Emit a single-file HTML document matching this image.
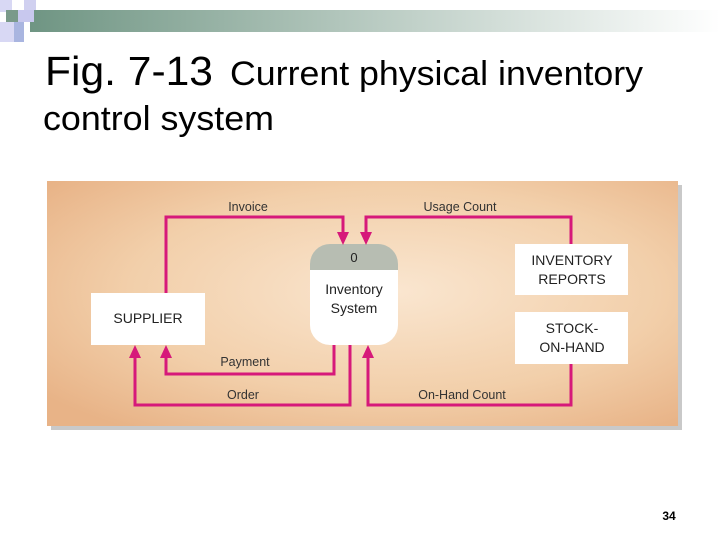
<!DOCTYPE html>
<html><head><meta charset="utf-8"><style>html,body{margin:0;padding:0;background:#fff}</style></head>
<body>
<svg width="720" height="540" viewBox="0 0 720 540" xmlns="http://www.w3.org/2000/svg" font-family="Liberation Sans, Arial, sans-serif">
<defs>
<linearGradient id="bar" x1="0" x2="1" y1="0" y2="0">
<stop offset="0" stop-color="#6f9583"/><stop offset="0.5" stop-color="#b9cbc2"/><stop offset="1" stop-color="#ffffff"/>
</linearGradient>
<radialGradient id="pan" cx="0.55" cy="0.45" r="0.7">
<stop offset="0" stop-color="#fae6d0"/><stop offset="0.6" stop-color="#f2cfaa"/><stop offset="1" stop-color="#e8b387"/>
</radialGradient>
</defs>
<rect x="30" y="10" width="690" height="22" fill="url(#bar)"/>
<rect x="0" y="0" width="12" height="12" fill="#d8d8f4"/>
<rect x="24" y="0" width="12" height="10" fill="#d0d0f0"/>
<rect x="6" y="10" width="12" height="12" fill="#7a9a8a"/>
<rect x="18" y="10" width="16" height="12" fill="#c8c8ee"/>
<rect x="0" y="22" width="14" height="20" fill="#d8d8f4"/>
<rect x="14" y="22" width="10" height="20" fill="#a9b5e0"/>
<text x="45" y="85" font-size="41" textLength="168" lengthAdjust="spacingAndGlyphs">Fig. 7-13</text>
<text x="230" y="85" font-size="34" textLength="413" lengthAdjust="spacingAndGlyphs">Current physical inventory</text>
<text x="43" y="130" font-size="34" textLength="231" lengthAdjust="spacingAndGlyphs">control system</text>
<rect x="51" y="185" width="631" height="245" fill="#c9c9c9"/>
<rect x="47" y="181" width="631" height="245" fill="url(#pan)"/>
<g fill="#fff">
<rect x="91" y="293" width="114" height="52"/>
<rect x="515" y="244" width="113" height="51"/>
<rect x="515" y="312" width="113" height="52"/>
</g>
<path d="M310,270 V264 A20,20 0 0 1 330,244 H378 A20,20 0 0 1 398,264 V270 Z" fill="#b7bdb2"/>
<path d="M310,270 H398 V325 A20,20 0 0 1 378,345 H330 A20,20 0 0 1 310,325 Z" fill="#fff"/>
<g fill="none" stroke="#d6197a" stroke-width="3">
<path d="M166,293 V217 H343 V234"/>
<path d="M571,244 V217 H366 V234"/>
<path d="M334,345 V374 H166 V355"/>
<path d="M350,345 V405 H135 V355"/>
<path d="M571,364 V405 H368 V355"/>
</g>
<g fill="#d6197a">
<polygon points="337,232 349,232 343,245"/>
<polygon points="360,232 372,232 366,245"/>
<polygon points="160,358 172,358 166,345"/>
<polygon points="129,358 141,358 135,345"/>
<polygon points="362,358 374,358 368,345"/>
</g>
<g font-size="12.5" fill="#333" text-anchor="middle">
<text x="248" y="211">Invoice</text>
<text x="460" y="211">Usage Count</text>
<text x="245" y="366">Payment</text>
<text x="243" y="399">Order</text>
<text x="462" y="399">On-Hand Count</text>
</g>
<g font-size="14" fill="#222" text-anchor="middle">
<text x="148" y="323">SUPPLIER</text>
<text x="572" y="265">INVENTORY</text>
<text x="572" y="284">REPORTS</text>
<text x="572" y="333">STOCK-</text>
<text x="572" y="352">ON-HAND</text>
<text x="354" y="262" font-size="13">0</text>
<text x="354" y="294">Inventory</text>
<text x="354" y="313">System</text>
</g>
<text x="669" y="520" font-size="12" font-weight="bold" text-anchor="middle">34</text>
</svg>
</body></html>
